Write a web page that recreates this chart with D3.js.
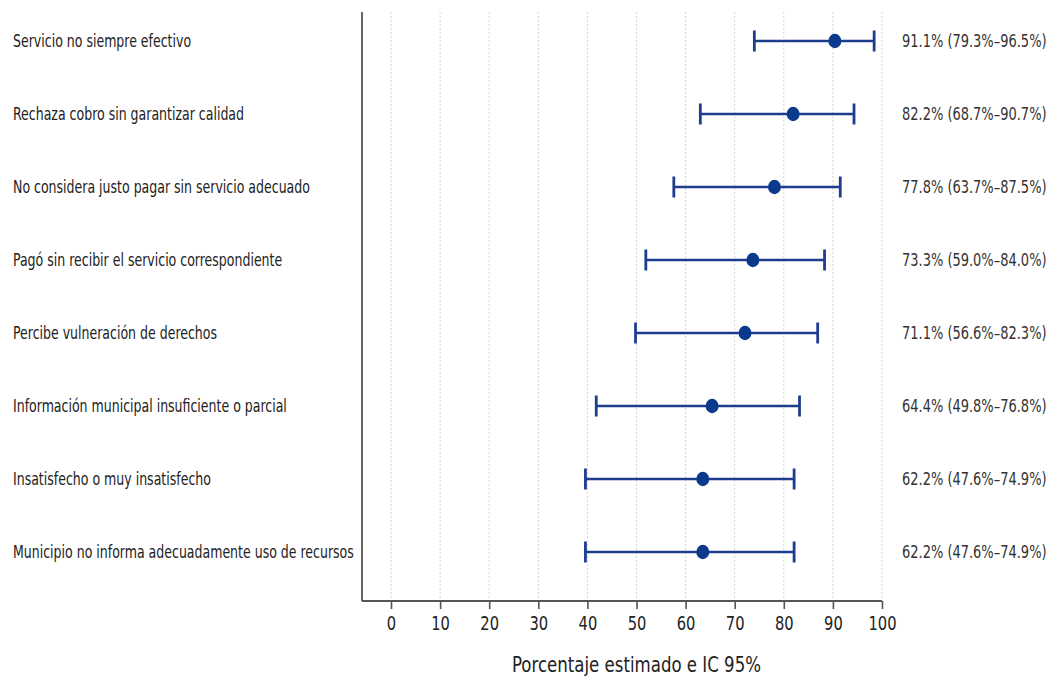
<!DOCTYPE html>
<html>
<head>
<meta charset="utf-8">
<script src="https://cdn.jsdelivr.net/npm/d3@7"></script>
<style>
  body { margin: 0; background: #fff; }
  svg text { font-family: "Liberation Sans Narrow", "DejaVu Sans Condensed", "Arial Narrow", sans-serif; }
  .grid line { stroke: #d4d4d4; stroke-dasharray: 2,2; }
  .axis path, .axis line { stroke: #555; }
</style>
</head>
<body>
<div id="chart"></div>
<script>
// categories, top to bottom
var categories = [
  "Servicio no siempre efectivo",
  "Rechaza cobro sin garantizar calidad",
  "No considera justo pagar sin servicio adecuado",
  "Pagó sin recibir el servicio correspondiente",
  "Percibe vulneración de derechos",
  "Información municipal insuficiente o parcial",
  "Insatisfecho o muy insatisfecho",
  "Municipio no informa adecuadamente uso de recursos"
];

// positions of the marks as drawn in the picture
var plotEstimate = [90.4, 81.9, 78.1, 73.7, 72.1, 65.4, 63.5, 63.5];
var plotLower    = [74.0, 63.0, 57.6, 51.9, 49.8, 41.8, 39.6, 39.6];
var plotUpper    = [98.4, 94.3, 91.5, 88.3, 86.9, 83.2, 82.1, 82.1];

// values printed in the right-hand labels
var labelEstimate = [91.1, 82.2, 77.8, 73.3, 71.1, 64.4, 62.2, 62.2];
var labelLower    = [79.3, 68.7, 63.7, 59.0, 56.6, 49.8, 47.6, 47.6];
var labelUpper    = [96.5, 90.7, 87.5, 84.0, 82.3, 76.8, 74.9, 74.9];

var xTicks = [0, 10, 20, 30, 40, 50, 60, 70, 80, 90, 100];

var width = 1057, height = 677;
var plotTop = 12, plotBottom = 601, plotLeft = 362;

var svg = d3.select("#chart").append("svg")
  .attr("width", width)
  .attr("height", height);

var x = d3.scaleLinear().domain([0, 100]).range([391, 882]);
var y = d3.scalePoint().domain(categories).range([41, 552]);

var rows = categories.map(function(c, i) {
  return {
    name: c,
    est: plotEstimate[i], lo: plotLower[i], hi: plotUpper[i],
    text: labelEstimate[i].toFixed(1) + "% (" + labelLower[i].toFixed(1) + "%–" + labelUpper[i].toFixed(1) + "%)"
  };
});

// the reference uses a condensed face; squeeze the installed one horizontally
var condense = 0.775;

// dotted vertical grid
svg.append("g").attr("class", "grid")
  .selectAll("line")
  .data(xTicks)
  .enter().append("line")
  .attr("x1", function(d) { return x(d); })
  .attr("x2", function(d) { return x(d); })
  .attr("y1", plotTop)
  .attr("y2", plotBottom);

// x axis
var xAxis = d3.axisBottom(x)
  .tickValues(xTicks)
  .tickSizeInner(8)
  .tickSizeOuter(0)
  .tickPadding(8);

var gx = svg.append("g")
  .attr("class", "axis")
  .attr("transform", "translate(0," + plotBottom + ")")
  .call(xAxis);
gx.select(".domain").remove();
gx.selectAll(".tick line").attr("stroke-width", 1.6);
gx.selectAll(".tick text")
  .attr("fill", "#222")
  .style("font-size", "19px")
  .attr("transform", "scale(0.86,1)")
  .attr("x", 0);

// axis frame lines (left + bottom)
svg.append("line")
  .attr("x1", plotLeft).attr("x2", plotLeft)
  .attr("y1", plotTop).attr("y2", plotBottom)
  .attr("stroke", "#555").attr("stroke-width", 1.8);
svg.append("line")
  .attr("x1", plotLeft).attr("x2", x(100))
  .attr("y1", plotBottom).attr("y2", plotBottom)
  .attr("stroke", "#555").attr("stroke-width", 1.8);

// axis title
svg.append("g")
  .attr("transform", "translate(" + ((x(0) + x(100)) / 2) + ",672) scale(0.9,1)")
  .append("text")
  .attr("text-anchor", "middle")
  .attr("fill", "#222")
  .style("font-size", "20.5px")
  .text("Porcentaje estimado e IC 95%");

// category labels on the left
svg.append("g")
  .selectAll("g")
  .data(rows)
  .enter().append("g")
  .attr("transform", function(d) { return "translate(13," + y(d.name) + ") scale(" + condense + ",1)"; })
  .append("text")
  .attr("dy", "0.35em")
  .attr("fill", "#222")
  .style("font-size", "18px")
  .text(function(d) { return d.name; });

// error bars
var bars = svg.append("g")
  .selectAll("g")
  .data(rows)
  .enter().append("g")
  .attr("transform", function(d) { return "translate(0," + y(d.name) + ")"; });

var barColor = "#1f3d8f";
var capHalf = 10.5;

bars.append("line")
  .attr("x1", function(d) { return x(d.lo); })
  .attr("x2", function(d) { return x(d.hi); })
  .attr("y1", 0).attr("y2", 0)
  .attr("stroke", barColor)
  .attr("stroke-width", 2.4);

bars.append("line")
  .attr("x1", function(d) { return x(d.lo); })
  .attr("x2", function(d) { return x(d.lo); })
  .attr("y1", -capHalf).attr("y2", capHalf)
  .attr("stroke", barColor)
  .attr("stroke-width", 2.8);

bars.append("line")
  .attr("x1", function(d) { return x(d.hi); })
  .attr("x2", function(d) { return x(d.hi); })
  .attr("y1", -capHalf).attr("y2", capHalf)
  .attr("stroke", barColor)
  .attr("stroke-width", 2.8);

bars.append("ellipse")
  .attr("cx", function(d) { return x(d.est); })
  .attr("cy", 0)
  .attr("rx", 6.5)
  .attr("ry", 7.2)
  .attr("fill", "#0b3a8c");

// value labels on the right
svg.append("g")
  .selectAll("g")
  .data(rows)
  .enter().append("g")
  .attr("transform", function(d) { return "translate(902," + y(d.name) + ") scale(0.85,1)"; })
  .append("text")
  .attr("dy", "0.35em")
  .attr("fill", "#333")
  .style("font-size", "17px")
  .text(function(d) { return d.text; });
</script>
</body>
</html>
